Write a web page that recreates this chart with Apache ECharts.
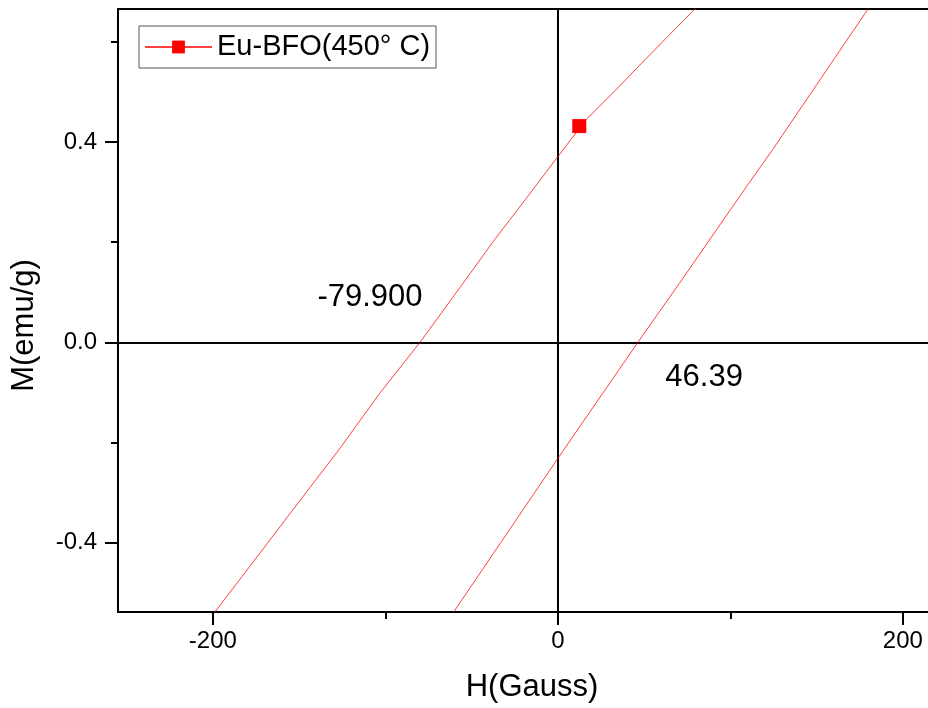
<!DOCTYPE html>
<html>
<head>
<meta charset="utf-8">
<title>Eu-BFO hysteresis loop</title>
<script src="https://cdn.jsdelivr.net/npm/echarts@6/dist/echarts.min.js"></script>
<style>
  html, body { margin: 0; padding: 0; background: #fff; overflow: hidden; }
  #chart { width: 928px; height: 708px; }
</style>
</head>
<body>
<div id="chart"></div>
<script>
// Magnetisation loop of Eu-doped BiFeO3 annealed at 450 °C (zoomed near the origin)
const seriesName = 'Eu-BFO(450° C)';

// Ascending branch (field increasing)
const H_ASC = [-80, -60.4, 0, 46.39, 70.5, 108.1, 124.5, 179.8, 200];
const M_ASC = [-0.637, -0.539, -0.232, 0, 0.118, 0.305, 0.385, 0.666, 0.766];

// Descending branch (field decreasing)
const H_DESC = [100, 73.4, 50.6, 33.8, 16.4, 0, -18.9, -36.7, -53.5, -79.9, -103.3, -127.0, -144.8, -198.8, -220];
const M_DESC = [0.738, 0.645, 0.565, 0.505, 0.445, 0.371, 0.285, 0.205, 0.125, 0, -0.102, -0.215, -0.295, -0.539, -0.635];

// Measured point shown with a symbol
const H_MARK = [12.4];
const M_MARK = [0.432];

// Coercive fields quoted on the plot
const HC_LEFT = -79.900;
const HC_RIGHT = 46.39;

// Axis ticks
const X_MAJOR = [-200, 0, 200];
const X_MINOR = [-100, 100];
const Y_MAJOR = [-0.4, 0, 0.4];
const Y_MINOR = [-0.2, 0.2, 0.6];

const X_MIN = -255, X_MAX = 225;
const Y_MIN = -0.539, Y_MAX = 0.666;

const loop = H_ASC.map((h, i) => [h, M_ASC[i]])
  .concat(H_DESC.map((h, i) => [h, M_DESC[i]]));
const marked = H_MARK.map((h, i) => [h, M_MARK[i]]);

const FONT = 'Liberation Sans, Arial, sans-serif';
const RED = '#ff0000';

function fmtY(v) { return Number(v).toFixed(1); }

const chart = echarts.init(document.getElementById('chart'), null, { renderer: 'canvas' });

chart.setOption({
  backgroundColor: '#ffffff',
  animation: false,
  grid: {
    left: 118, top: 9, width: 828, height: 603,
    outerBoundsMode: 'none',
    containLabel: false,
    show: true, borderColor: '#000', borderWidth: 2, backgroundColor: 'transparent'
  },
  legend: {
    left: 139, top: 26,
    orient: 'horizontal',
    data: [seriesName],
    itemWidth: 67, itemHeight: 16,
    padding: [6, 6, 6, 5],
    borderColor: '#555', borderWidth: 1,
    selectedMode: false,
    textStyle: { fontFamily: FONT, fontSize: 29, color: '#000', lineHeight: 30 }
  },
  xAxis: [
    {
      type: 'value', min: X_MIN, max: X_MAX, position: 'bottom',
      name: 'H(Gauss)', nameLocation: 'middle', nameGap: 60,
      nameTextStyle: { fontFamily: FONT, fontSize: 31, color: '#000' },
      axisLine: { show: true, onZero: false, lineStyle: { color: '#000', width: 2 } },
      axisTick: { show: true, inside: false, length: 13, customValues: X_MAJOR, lineStyle: { color: '#000', width: 2 } },
      axisLabel: { show: true, margin: 17, customValues: X_MAJOR, fontFamily: FONT, fontSize: 24, color: '#000' },
      splitLine: { show: false }
    },
    {
      type: 'value', min: X_MIN, max: X_MAX, position: 'bottom',
      axisLine: { show: false, onZero: false },
      axisTick: { show: true, inside: false, length: 7, customValues: X_MINOR, lineStyle: { color: '#000', width: 2 } },
      axisLabel: { show: false },
      splitLine: { show: false }
    }
  ],
  yAxis: [
    {
      type: 'value', min: Y_MIN, max: Y_MAX, position: 'left',
      name: 'M(emu/g)', nameLocation: 'middle', nameGap: 78,
      nameTextStyle: { fontFamily: FONT, fontSize: 31, color: '#000', padding: [0, 30, 0, 0] },
      axisLine: { show: true, onZero: false, lineStyle: { color: '#000', width: 2 } },
      axisTick: { show: true, inside: false, length: 13, customValues: Y_MAJOR, lineStyle: { color: '#000', width: 2 } },
      axisLabel: { show: true, margin: 21, customValues: Y_MAJOR, formatter: fmtY, fontFamily: FONT, fontSize: 24, color: '#000' },
      splitLine: { show: false }
    },
    {
      type: 'value', min: Y_MIN, max: Y_MAX, position: 'left',
      axisLine: { show: false, onZero: false },
      axisTick: { show: true, inside: false, length: 7, customValues: Y_MINOR, lineStyle: { color: '#000', width: 2 } },
      axisLabel: { show: false },
      splitLine: { show: false }
    }
  ],
  series: [
    {
      name: seriesName,
      type: 'line',
      xAxisIndex: 0, yAxisIndex: 0,
      data: loop,
      symbol: 'rect',
      showSymbol: false,
      clip: true,
      color: RED,
      lineStyle: { color: 'rgba(255,0,0,0.75)', width: 1 },
      itemStyle: { color: RED },
      z: 3,
      markLine: {
        silent: true,
        symbol: 'none',
        label: { show: false },
        lineStyle: { color: '#000', width: 2, type: 'solid' },
        data: [{ xAxis: 0 }, { yAxis: 0 }],
        z: 2
      },
      markPoint: {
        silent: true,
        symbol: 'circle', symbolSize: 0,
        label: {
          show: true, position: 'inside',
          fontFamily: FONT, fontSize: 31, color: '#000',
          formatter: p => p.name
        },
        data: [
          { name: HC_LEFT.toFixed(3), coord: [HC_LEFT - 29, 0.089] },
          { name: String(HC_RIGHT), coord: [HC_RIGHT + 38.4, -0.071] }
        ]
      }
    },
    {
      name: seriesName,
      type: 'scatter',
      xAxisIndex: 0, yAxisIndex: 0,
      data: marked,
      symbol: 'rect',
      symbolSize: 14,
      itemStyle: { color: RED, opacity: 1 },
      z: 4
    }
  ]
});
</script>
</body>
</html>
